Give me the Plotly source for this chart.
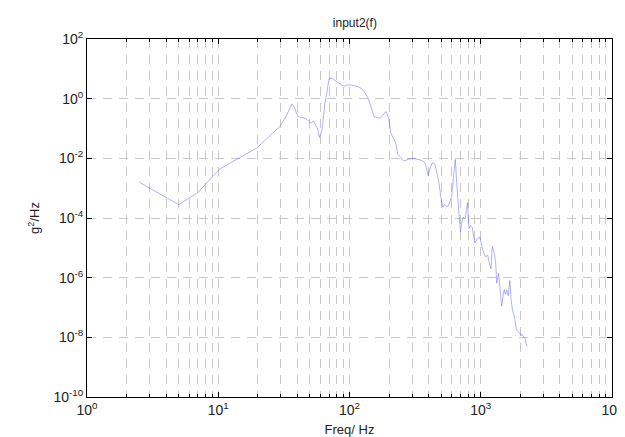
import plotly.graph_objects as go

freq = [2.5, 5.0, 7.0, 10.2, 13, 16, 19.6, 24, 29.6, 32.8, 35, 36.4, 38, 40.4, 46, 51, 53, 55, 57, 59,
        61.8, 65, 70, 73.4, 78, 83, 88, 92, 96, 102, 110, 117, 125, 130, 139, 146, 154, 162, 171, 178,
        183, 190, 199, 206, 215, 225, 233, 245, 258, 270, 286, 305, 328, 350, 377, 390, 398, 410, 427, 448,
        465, 480, 497, 513, 530, 550, 569, 590, 601, 620, 640, 660, 676, 700, 720, 739, 760, 792, 813, 835,
        859, 880, 902, 940, 984, 1020, 1056, 1090, 1132, 1160, 1196, 1223, 1256, 1298, 1324, 1370, 1405, 1443, 1480, 1510,
        1545, 1575, 1620, 1665, 1700, 1742, 1800, 1866, 1920, 1980, 2030, 2070, 2130, 2180, 2218, 2260]
psd = [1.6e-3, 2.8e-4, 7.2e-4, 4.3e-3, 8e-3, 1.3e-2, 2.2e-2, 5e-2, 0.12, 0.25, 0.5, 0.66, 0.5, 0.25, 0.22, 0.15, 0.18, 0.14, 0.10, 0.05,
       0.09, 0.7, 4.7, 4.9, 4.0, 3.2, 2.8, 2.6, 2.9, 2.9, 2.7, 2.5, 2.1, 1.7, 1.0, 0.48, 0.25, 0.23, 0.22, 0.26,
       0.32, 0.37, 0.22, 0.07, 0.05, 0.033, 0.0135, 0.011, 8.1e-3, 8.9e-3, 9.5e-3, 1e-2, 9.5e-3, 8.7e-3, 7.1e-3, 4e-3, 2.6e-3, 4.5e-3, 7.1e-3, 6.3e-3,
       3.2e-3, 1.55e-3, 5e-4, 2.3e-4, 2.8e-4, 2.4e-4, 2.6e-4, 4e-4, 5.6e-4, 2.5e-3, 9.1e-3, 1e-3, 2.6e-4, 3.4e-5, 7.9e-5, 1.07e-4, 9.3e-5, 3.3e-4, 4.4e-5, 5.6e-5,
       5e-5, 2.5e-5, 1.45e-5, 2e-5, 2.3e-5, 1.1e-5, 6.5e-6, 5e-6, 5.6e-6, 3.2e-6, 2e-6, 1.1e-5, 8e-6, 3.4e-6, 6.6e-7, 1.4e-6, 5e-7, 1.1e-7, 2.5e-7, 4e-7,
       2.8e-7, 3.9e-7, 2.5e-7, 8e-7, 2e-7, 8.7e-8, 5e-8, 1.9e-8, 1.6e-8, 1.4e-8, 1.15e-8, 1.26e-8, 1e-8, 8.9e-9, 6.2e-9, 5e-9]

x_major = [1, 10, 100, 1000, 10000]
x_major_text = ["10<sup>0</sup>", "10<sup>1</sup>", "10<sup>2</sup>", "10<sup>3</sup>", "10<sup>4</sup>"]
x_minor = [m * d for d in [1, 10, 100, 1000] for m in range(2, 10)]
y_major = [1e2, 1e0, 1e-2, 1e-4, 1e-6, 1e-8, 1e-10]
y_major_text = ["10<sup>2</sup>", "10<sup>0</sup>", "10<sup>-2</sup>", "10<sup>-4</sup>",
                "10<sup>-6</sup>", "10<sup>-8</sup>", "10<sup>-10</sup>"]

font = "Liberation Sans, Arial, sans-serif"
gridc = "#c8c8c8"

fig = go.Figure()
fig.add_trace(go.Scatter(x=freq, y=psd, mode="lines",
                         line=dict(color="rgba(60,60,255,0.5)", width=0.8),
                         showlegend=False))

fig.update_layout(
    width=625, height=437,
    margin=dict(l=79, r=10, t=31, b=43),
    paper_bgcolor="white", plot_bgcolor="white",
    font=dict(family=font, size=13, color="#222"),
    title=dict(text="input2(f)", x=0.555, xanchor="center", y=0.966, yanchor="middle",
               font=dict(size=12, color="#222")),
)
fig.update_xaxes(
    type="log", range=[0, 4],
    tickmode="array", tickvals=x_major, ticktext=x_major_text,
    ticks="inside", ticklen=5, tickcolor="black",
    showline=True, linecolor="black", linewidth=1, mirror="ticks",
    showgrid=True, gridcolor=gridc, griddash="9px,7px", gridwidth=1,
    zeroline=False,
    tickfont=dict(size=14), ticklabeloverflow="allow",
    title=dict(text="Freq/ Hz", font=dict(size=13), standoff=8),
    minor=dict(tickmode="array", tickvals=x_minor, ticks="inside", ticklen=3, tickcolor="black",
               showgrid=True, gridcolor=gridc, griddash="9px,7px", gridwidth=1),
)
fig.update_yaxes(
    type="log", range=[-10, 2],
    tickmode="array", tickvals=y_major, ticktext=y_major_text,
    ticks="inside", ticklen=5, tickcolor="black",
    showline=True, linecolor="black", linewidth=1, mirror="ticks",
    showgrid=True, gridcolor=gridc, griddash="9px,7px", gridwidth=1,
    zeroline=False,
    tickfont=dict(size=14), ticklabeloverflow="allow",
    title=dict(text="g<sup>2</sup>/Hz", font=dict(size=13), standoff=10),
)

fig.write_html("out.html")
